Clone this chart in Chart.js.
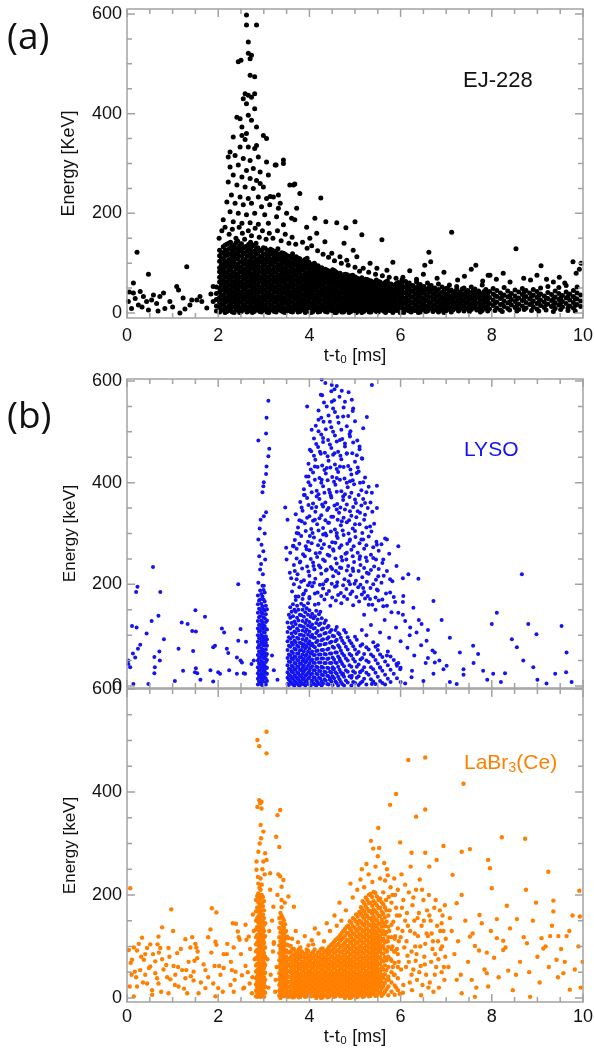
<!DOCTYPE html>
<html>
<head>
<meta charset="utf-8">
<script src="https://cdn.jsdelivr.net/npm/chart.js@4"></script>
<style>
  body { margin: 0; background: #fff; }
  #page { position: relative; width: 594px; height: 1050px; overflow: hidden; }
  .box { position: absolute; left: 0; }
  .box canvas { display: block; }
  .tag { position: absolute; white-space: nowrap; }
  .panel-id { font: 37px/40px 'Open Sans', sans-serif; color: #111; left: 7px; }
  .name { font-family: 'Liberation Sans', Arial, sans-serif; line-height: 26px; }
  .name sub { font-size: 0.68em; line-height: 0; vertical-align: -0.22em; }
</style>
</head>
<body>
<div id="page">
  <div class="box" style="top:-30px"><canvas id="chartA" width="594" height="402"></canvas></div>
  <div class="box" style="top:340px"><canvas id="chartB" width="594" height="350"></canvas></div>
  <div class="box" style="top:650px"><canvas id="chartC" width="594" height="400"></canvas></div>
  <div class="tag panel-id" style="top:15px">(a)</div>
  <div class="tag panel-id" style="top:394px">(b)</div>
  <div class="tag name" style="left:463px;top:67px;font-size:22px;color:#111">EJ-228</div>
  <div class="tag name" style="left:464px;top:436px;font-size:21px;color:rgb(20,20,240)">LYSO</div>
  <div class="tag name" style="left:464px;top:749px;font-size:21px;color:rgb(255,128,0)">LaBr<sub>3</sub>(Ce)</div>
</div>
<script>
// ticks
const xTicks = [0,0.5,1,1.5,2,2.5,3,3.5,4,4.5,5,5.5,6,6.5,7,7.5,8,8.5,9,9.5,10];
const yTicks = [0,50,100,150,200,250,300,350,400,450,500,550,600];

// (a) EJ-228 : [t-t0 ms, keV] pairs, and dense columns [t, E, E, ...]
const ejPre = [[0.03,23],[0.05,42],[0.10,9],[0.14,40],[0.14,60],[0.18,29],[0.22,122],[0.25,16],[0.29,43],[0.33,12],[0.36,33],[0.43,23],[0.47,6],[0.47,78],[0.54,26],[0.58,36],[0.65,19],[0.68,4],[0.72,33],[0.80,40],[0.83,9],[0.94,23],[1.00,12],[1.09,53],[1.13,46],[1.16,0],[1.23,30],[1.27,8],[1.31,93],[1.38,16],[1.42,26],[1.53,26],[1.60,33],[1.64,23],[1.75,10],[1.84,38],[1.89,53],[1.89,23]];

const ejUpper = [[2.62,598],[2.62,578],[2.84,578],[2.66,544],[2.66,521],[2.73,517],[2.7,510],[2.44,504],[2.5,507],[2.7,477],[2.8,474],[2.59,440],[2.66,437],[2.55,430],[2.73,433],[2.8,440],[2.62,420],[2.8,410],[2.41,393],[2.48,390],[2.66,397],[2.73,387],[2.52,373],[2.84,373],[2.33,353],[2.52,356],[2.62,360],[2.59,348],[2.99,356],[3.06,350],[2.26,323],[2.48,333],[2.66,333],[2.8,330],[2.84,336],[2.22,313],[2.37,316],[2.55,310],[2.7,306],[2.88,313],[3.06,303],[3.43,300],[3.25,297],[2.26,293],[2.44,297],[2.62,286],[2.77,290],[2.92,283],[2.33,277],[2.52,273],[2.7,270],[2.84,266],[2.22,263],[2.41,257],[2.59,253],[2.77,250],[2.99,253],[3.65,257],[2.29,237],[2.48,233],[2.66,230],[2.88,233],[3.06,230],[3.21,233],[3.79,240],[2.19,223],[2.37,220],[2.55,217],[2.73,220],[2.95,213],[3.13,217],[3.32,210],[2.26,203],[2.44,200],[2.62,197],[2.8,200],[3.02,197],[3.28,193],[3.5,200],[2.11,187],[2.33,183],[2.52,180],[2.7,181],[2.88,178],[3.1,180],[3.43,177],[3.68,187],
  [3.57,257],[3.68,259],[4.25,231],[4.12,190],[4.36,183],[4.6,181],[5.0,183],[4.8,171],[5.15,157],[5.59,147],[4.76,140],[4.96,126],[5.83,102],[3.32,237],[3.14,234],[3.43,307],[3.27,297],[3.1,277],[2.92,260],[3.36,220],[3.72,210],[3.61,190],[3.94,172],[4.16,160],[4.01,150],[4.34,143],[4.49,120],[4.67,113],[4.82,106],[5.33,100],[5.18,90],[5.48,90],[5.7,86],[5.04,113],
  [2.02,150],[2.08,165],[2.15,172],[2.24,158],[2.31,168],[2.39,150],[2.46,172],[2.53,160],[2.58,148],[2.66,165],[2.73,155],[2.81,170],[2.9,152],[2.97,165],[3.05,148],[3.12,160],[3.2,150],[3.3,165],[3.38,145],[3.47,158],[3.55,140],[3.62,152],[3.7,138],[3.85,142],[3.95,130],[4.05,135],[4.18,125],[4.3,118],[4.42,112],[4.55,105],[4.7,100],[4.85,96],[5.0,92],[5.1,84],[5.3,82],[5.45,78],[5.6,75],[5.75,72],[5.9,70],
  [6.05,72],[6.2,85],[6.35,68],[6.5,78],[6.53,96],[6.62,122],[6.66,103],[6.8,70],[6.95,82],[7.12,162],[7.25,66],[7.4,74],[7.55,88],[7.65,96],[7.8,64],[7.92,76],[7.96,76],[8.1,68],[8.25,80],[8.4,62],[8.53,129],[8.7,70],[8.85,66],[8.99,76],[9.08,95],[9.2,68],[9.35,62],[9.48,72],[9.6,60],[9.78,103],[9.85,80],[9.96,100],[9.92,88]];

const ejCore = [
  [1.96,4,14,27,39,52],
  [2.03,2,12,21,31,42,50,62,72,83,91,104,115,126],
  [2.11,6,16,26,35,46,57,66,78,87,99,109,121,133],
  [2.19,3,11,23,31,43,52,62,73,83,94,102,116,125,138],
  [2.27,7,18,27,37,46,57,68,77,88,99,108,118,131,142],
  [2.35,1,12,22,32,41,53,62,73,82,94,105,113,127,136],
  [2.43,6,15,26,36,47,57,68,77,89,97,109,121,130,144],
  [2.51,3,11,22,33,42,52,61,73,83,92,103,114,125,139],
  [2.59,8,17,28,37,48,57,69,78,88,99,108,120,133],
  [2.67,4,13,23,34,43,54,63,75,84,94,104,115,127,138],
  [2.75,1,10,21,30,40,49,60,71,79,91,101,112,122,135],
  [2.83,6,16,25,36,45,56,67,76,87,96,106,118,128,140],
  [2.91,3,13,22,31,42,51,62,71,82,92,103,112,125],
  [2.99,7,17,28,37,47,58,67,78,87,99,108,119,131],
  [3.07,2,11,21,32,41,52,61,72,83,92,104,113,126],
  [3.15,6,16,26,35,47,56,66,77,86,98,107,119,128],
  [3.23,3,12,23,31,42,51,62,71,83,92,103,115,123],
  [3.31,8,17,27,38,47,57,68,77,88,97,109,118,129],
  [3.39,4,14,23,32,43,52,63,72,83,94,104,114,121],
  [3.47,1,9,20,29,39,48,58,68,79,89,100,109,118],
  [3.55,5,15,25,35,44,54,65,74,84,95,104,114],
  [3.63,2,11,21,31,40,51,60,70,81,90,101,110,119],
  [3.71,7,16,27,36,45,56,66,76,85,96,106,113],
  [3.79,3,12,22,32,41,51,62,71,82,91,101,109],
  [3.87,8,18,27,37,48,57,67,76,87,97,105],
  [3.95,4,13,23,33,42,53,62,72,81,92,100,110],
  [4.03,1,10,19,30,38,48,59,68,78,87,97],
  [4.11,6,15,25,34,45,54,63,73,84,93,100],
  [4.19,2,11,21,30,40,51,59,70,79,88,95],
  [4.27,7,16,26,36,45,55,64,75,84,91],
  [4.35,3,12,22,31,41,50,61,70,80,88],
  [4.43,8,17,27,36,46,56,65,74,84],
  [4.51,4,13,23,33,42,51,61,71,80,87],
  [4.59,1,10,19,28,38,48,57,66,75,82],
  [4.67,6,15,25,34,43,53,62,72,80],
  [4.75,2,11,20,30,39,49,58,68,77],
  [4.83,7,16,26,35,44,54,63,72,77],
  [4.91,3,12,21,31,40,50,59,68,75],
  [4.99,8,17,27,36,46,55,64,73],
  [5.07,4,13,22,32,41,51,60,69],
  [5.15,1,10,19,28,37,46,56,65,71],
  [5.23,6,15,24,34,43,52,61,68],
  [5.31,2,11,20,29,39,48,57,65],
  [5.39,7,16,25,35,44,53,62],
  [5.47,3,12,21,31,40,49,58,66],
  [5.55,8,17,26,36,45,54,62],
  [5.63,4,13,22,32,41,50,59],
  [5.71,9,18,27,37,46,55,64],
  [5.79,5,14,23,33,42,51,58],
  [5.87,10,19,28,38,47,56],
  [5.95,6,15,24,34,43,52,61]];

const ejFill = [
  [2.07,7,17,26,36,47,56,67,77,88,97,109,120],
  [2.15,1,11,21,30,41,51,61,72,82,93,104,114,126,136],
  [2.23,5,14,26,35,45,55,66,76,86,97,107,118,128,140],
  [2.31,2,12,22,31,42,51,62,72,82,93,103,114,123,134],
  [2.39,8,17,27,37,47,57,67,78,88,98,109,118,130,141],
  [2.47,1,10,21,31,41,52,62,72,83,93,103,115,126,135],
  [2.55,7,16,27,37,47,57,67,78,87,98,108,119,130],
  [2.63,2,11,22,32,42,52,63,73,83,93,103,114,124,134],
  [2.71,6,15,26,36,45,55,66,77,88,97,107,118,130,142],
  [2.79,3,12,22,31,41,51,62,72,82,92,102,112,124,136],
  [2.87,8,18,27,37,47,57,67,78,88,98,108,119,131],
  [2.95,2,11,21,32,42,52,62,72,83,93,103,114,126],
  [3.03,6,15,26,36,46,56,66,77,87,97,108,118,130],
  [3.11,1,10,21,31,41,51,62,72,82,92,102,114,122],
  [3.19,7,17,27,37,47,57,67,77,87,97,108,118,126],
  [3.27,2,12,22,32,42,52,62,72,82,93,104,113,124],
  [3.35,6,16,26,35,46,56,66,76,87,97,107,117],
  [3.43,2,11,21,30,40,51,61,71,81,91,101,111,120],
  [3.51,7,17,26,36,46,56,66,76,86,96,105,115],
  [3.59,3,12,22,32,42,52,62,72,82,92,101,112],
  [3.67,8,18,28,38,47,57,67,77,87,97,105],
  [3.75,2,11,21,31,41,51,61,71,81,91,100,110],
  [3.83,6,16,26,36,46,56,66,76,86,95,104],
  [3.91,1,10,20,30,40,50,60,70,80,90,99,108],
  [3.99,5,15,25,35,45,55,65,75,85,94,102],
  [4.07,2,11,21,31,41,51,61,71,81,90,98],
  [4.15,7,16,26,36,46,56,66,76,85,95],
  [4.23,3,12,22,32,42,52,62,72,81,90],
  [4.31,8,17,27,37,47,57,66,76,85],
  [4.39,2,11,21,31,41,51,61,70,79,86],
  [4.47,6,15,25,35,45,55,64,73,82],
  [4.55,1,10,20,30,40,50,59,68,77,85],
  [4.63,5,14,24,33,42,52,61,70,78],
  [4.71,2,11,21,30,40,49,58,67,76],
  [4.79,6,15,24,33,42,51,61,70,78],
  [4.87,1,10,19,28,38,47,56,65,74],
  [4.95,5,14,23,32,42,51,60,69,76],
  [5.03,1,10,18,27,37,46,55,64,71],
  [5.11,6,15,24,33,42,51,60,68],
  [5.19,3,12,21,30,39,49,58,66],
  [5.27,7,16,25,34,43,52,61,67],
  [5.35,2,11,20,30,39,48,57,64],
  [5.43,6,15,24,33,42,51,60],
  [5.51,2,11,20,29,38,47,56,63],
  [5.59,6,15,24,33,42,51,58],
  [5.67,1,10,19,28,37,46,55,62],
  [5.75,5,14,23,32,41,50,58],
  [5.83,1,10,19,28,37,46,54],
  [5.91,5,14,23,33,42,51,59],
  [5.99,1,10,19,29,38,47,55]];

const ejTail = [
  [6.03,3,13,24,35,47,58,66],[6.11,8,19,29,41,52,63],[6.19,4,15,26,37,49,60],[6.27,10,21,32,44,55],
  [6.35,6,17,28,39,51,62],[6.43,2,12,23,35,46,57],[6.51,8,19,30,42,53],[6.59,4,14,26,37,48,60],
  [6.67,10,21,32,44,55],[6.75,6,16,28,39,50],[6.83,2,12,24,35,47,58],[6.91,8,19,30,41,52],
  [6.99,4,15,26,37,49],[7.07,10,21,32,44,56],[7.15,6,17,28,40],[7.23,12,23,35,47,53],
  [7.31,8,19,30,42],[7.39,4,15,26,38,50],[7.47,11,22,34,45],[7.55,7,18,29,41,52],
  [7.63,14,25,37,48],[7.71,9,20,32,44],[7.79,5,16,27,39,56],[7.87,12,24,35,47],
  [7.95,8,19,31,43],[8.03,15,26,38,49],[8.11,10,22,33,45],[8.19,6,17,29,40],
  [8.27,13,24,36,51],[8.35,9,20,32,44],[8.43,16,27,39],[8.51,11,23,34,46],
  [8.59,7,18,30,42],[8.67,14,25,37,49],[8.75,10,21,33,45],[8.83,17,28,40],
  [8.91,12,24,36,47],[8.99,8,19,31,43],[9.07,15,26,38,50],[9.15,11,22,34],
  [9.23,18,29,41,53],[9.31,13,25,37],[9.39,9,20,32,44],[9.47,16,27,39,51],
  [9.55,12,23,35],[9.63,19,30,42,55],[9.71,14,26,38],[9.79,10,21,33,45],
  [9.87,17,28,40,52],[9.95,13,24,36],
  [6.07,1,9,20,30,41,52],[6.15,6,14,24,35,46,57],[6.23,2,10,21,32,43,54],[6.31,5,15,26,37,48],
  [6.39,1,10,21,32,43,54],[6.47,7,16,28,40,50],[6.55,3,13,24,35,46],[6.63,8,19,31,42,52],
  [6.71,3,15,26,37,48],[6.79,10,21,33,44],[6.87,5,16,27,38],[6.95,1,10,22,33,44],
  [7.03,7,18,28,39,50],[7.11,2,12,24,34,46],[7.19,9,20,32,43],[7.27,4,15,27,38],
  [7.35,13,24,35,48],[7.43,8,20,31,42],[7.51,3,15,27,37],[7.59,10,21,33,45],
  [7.67,6,19,30,41],[7.75,2,13,25,36],[7.83,9,21,31,43],[7.91,4,16,27,39],
  [8.07,5,20,35],[8.23,3,18,33],[8.39,6,22,34],[8.55,4,15,28],[8.71,7,30,42],[8.87,5,19,33],
  [9.03,4,22,35],[9.19,6,17,30],[9.35,3,16,28],[9.51,7,20,30],[9.67,5,10,33],[9.83,4,15,29]];

// (b) LYSO
const lysoLeft = [[0.03,43],[0.03,50],[0.07,37],[0.11,118],[0.13,64],[0.14,4],[0.18,56],[0.2,185],[0.21,115],[0.23,195],[0.24,73],[0.29,81],[0.43,103],[0.47,4],[0.54,128],[0.57,234],[0.6,57],[0.61,37],[0.6,25],[0.69,138],[0.71,68],[0.72,50],[0.73,185],[0.81,92],[1.05,10],[1.13,73],[1.2,125],[1.23,30],[1.33,122],[1.43,108],[1.45,69],[1.49,27],[1.5,149],[1.51,107],[1.51,35],[1.54,25],[1.61,12],[1.71,136],[1.83,31],[1.89,9],[1.89,76],[1.93,79],[2.0,27],[2.04,24],[2.08,113],[2.13,105],[2.19,73],[2.22,65],[2.24,31],[2.41,56],[2.41,24],[2.44,89],[2.44,200],[2.49,112],[2.49,50],[2.52,46],[2.56,25],[2.59,24],[2.61,87],[2.73,43],[2.78,50],[3.22,31],[3.3,12],[3.18,60]];

const lysoSpike = [[3.1,561],[3.06,528],[3.05,497],[2.88,483],[3.12,467],[3.1,452],[3.06,432],[3.05,417],[3.0,401],[2.99,393],[2.97,381],[3.05,342],[3.0,334],[2.93,327],[2.88,288],[2.95,278],[2.99,265],[2.9,255],[3.03,249],[2.92,229],[2.98,220],[2.88,203],[3.0,197],[2.94,240],[3.02,300],[2.91,310],
  [3.47,351],[3.52,327],[3.49,272],[3.65,275],[3.5,249],[3.57,223]];

const lysoCloud = [[4.27,603],[4.49,592],[4.55,584],[4.71,581],[5.37,592],[4.25,573],[4.49,559],[4.93,563],[3.95,550],[4.52,546],[4.96,546],[5.26,529],[4.2,524],[4.45,520],[4.74,530],[4.05,504],[4.3,488],[4.89,491],[5.18,507],[4.67,484],[5.1,471],[4.01,465],[4.23,461],[4.52,455],[4.82,458],[5.15,448],[4.12,432],[4.38,429],[4.67,432],[5.04,419],[3.98,412],[4.27,406],[4.6,409],[4.89,403],[5.11,400],[5.48,394],[5.37,380],[3.88,376],[4.16,373],[4.45,380],[4.74,373],[5.0,367],[5.22,360],[5.48,350],[4.05,350],[4.3,353],[4.6,347],[4.89,344],[5.11,341],[3.83,324],[4.12,327],[4.41,321],[4.71,324],[5.0,318],[5.33,314],[5.7,288],[5.95,275],[3.72,301],[4.01,295],[4.3,298],[4.6,295],[4.89,288],[5.18,288],[5.48,278],[3.65,275],[3.94,269],[4.23,262],[4.52,269],[4.82,262],[5.11,255],[5.4,252],[5.62,249],[5.91,236],[6.17,220],[6.39,211],[3.79,243],[4.09,236],[4.38,229],[4.67,233],[4.96,226],[5.26,223],[5.51,216],[5.77,210],[3.72,210],[4.01,203],[4.3,200],[4.6,197],[4.89,200],[5.18,193],[5.48,190],[5.77,184],[6.06,177],[6.72,167],[5.62,157],[5.33,171],[5.95,144],[6.28,154],
  [4.2,162],[4.33,170],[4.46,158],[4.58,168],[4.7,163],[4.83,171],[4.96,159],[5.09,166],[5.22,172],[5.38,160],[5.52,168],[5.7,158],[5.88,165],
  [3.62,186],[3.78,194],[3.92,188],[4.06,196],[4.18,184],[4.3,192],[4.43,187],[4.56,195],[4.69,183],[4.81,191],[4.94,186],[5.07,194],[5.2,185],[5.34,193],[5.5,188],[5.68,182],
  [3.6,212],[3.74,220],[3.88,208],[4.0,217],[4.13,211],[4.26,221],[4.39,209],[4.52,216],[4.64,222],[4.77,210],[4.9,218],[5.02,207],[5.16,214],[5.3,221],[5.46,209],[5.63,217],[5.82,206],[6.05,212],
  [3.66,238],[3.8,245],[3.95,235],[4.08,243],[4.21,237],[4.34,246],[4.47,234],[4.6,241],[4.72,247],[4.85,236],[4.98,244],[5.12,238],[5.26,246],[5.42,235],[5.6,242],
  [3.58,262],[3.72,270],[3.86,259],[4.0,267],[4.14,261],[4.27,271],[4.4,258],[4.53,266],[4.66,272],[4.79,260],[4.92,268],[5.06,262],[5.2,270],[5.35,258],[5.52,266],[5.75,260],
  [3.68,287],[3.82,295],[3.97,284],[4.1,292],[4.24,286],[4.37,296],[4.5,283],[4.62,291],[4.75,297],[4.88,285],[5.01,293],[5.14,288],[5.3,294],[5.47,284],[5.66,290],
  [3.75,312],[3.9,320],[4.04,309],[4.17,318],[4.3,311],[4.43,321],[4.56,308],[4.69,316],[4.82,322],[4.95,310],[5.1,318],[5.25,312],[5.42,319],
  [3.7,338],[3.85,345],[4.0,334],[4.13,343],[4.26,336],[4.39,346],[4.52,333],[4.65,341],[4.78,347],[4.92,335],[5.06,344],[5.22,337],[5.38,343],
  [3.8,362],[3.95,370],[4.08,359],[4.22,368],[4.35,361],[4.48,371],[4.61,358],[4.74,366],[4.88,372],[5.02,360],[5.18,368],[5.34,361],
  [3.88,387],[4.02,395],[4.16,384],[4.3,393],[4.43,386],[4.57,396],[4.7,383],[4.84,391],[4.98,397],[5.14,385],[5.3,392],
  [3.93,412],[4.08,420],[4.22,409],[4.36,418],[4.5,411],[4.63,421],[4.77,408],[4.92,416],[5.08,422],[5.22,410],
  [3.98,437],[4.13,445],[4.28,434],[4.42,443],[4.56,436],[4.7,446],[4.85,433],[5.0,441],[5.16,447],
  [4.04,462],[4.19,470],[4.34,459],[4.48,468],[4.63,461],[4.78,471],[4.94,458],[5.1,466],
  [4.1,487],[4.26,495],[4.41,484],[4.56,493],[4.72,486],[4.88,496],[5.05,483],
  [4.14,512],[4.31,520],[4.48,509],[4.64,518],[4.82,511],[5.0,521],
  [4.2,542],[4.38,550],[4.56,539],[4.75,548],[4.95,541],
  [4.28,572],[4.48,580],[4.66,569],[4.86,578],[4.35,596],[4.6,590],
  [3.7,176],[3.86,180],[4.0,175],[4.12,182],[4.26,177],[4.38,181],[4.5,174],[4.63,179],[4.76,176],[4.9,181],[5.03,175],[5.15,180],[5.28,177],[5.45,174],
  [3.66,200],[3.82,205],[3.97,198],[4.1,203],[4.23,199],[4.36,206],[4.49,201],[4.61,204],[4.74,198],[4.86,206],[4.99,201],[5.12,199],[5.26,205],[5.4,200],[5.58,203],
  [3.68,226],[3.84,231],[3.98,225],[4.11,229],[4.24,233],[4.36,227],[4.5,230],[4.58,226],[4.7,232],[4.82,227],[4.95,231],[5.08,226],[5.2,232],[5.35,228],[5.52,230],[5.7,226],
  [3.72,251],[3.9,255],[4.03,250],[4.17,254],[4.3,249],[4.44,256],[4.57,251],[4.7,254],[4.81,249],[4.95,255],[5.1,250],[5.24,253],[5.46,249],
  [3.64,276],[3.78,280],[3.92,275],[4.05,281],[4.19,277],[4.32,279],[4.44,274],[4.57,282],[4.7,277],[4.83,280],[4.97,275],[5.1,281],[5.25,277],[5.4,273],[5.58,279],
  [3.76,300],[3.92,305],[4.07,301],[4.2,306],[4.35,300],[4.47,304],[4.6,301],[4.73,306],[4.86,300],[5.0,305],[5.16,301],[5.36,304],
  [3.78,326],[3.95,331],[4.08,325],[4.22,330],[4.35,326],[4.48,333],[4.62,327],[4.75,331],[4.87,326],[5.03,332],[5.2,327],
  [3.83,351],[3.98,356],[4.15,352],[4.28,357],[4.42,350],[4.55,355],[4.68,351],[4.82,357],[4.96,352],[5.14,355],[5.28,350],
  [3.9,376],[4.05,381],[4.2,377],[4.33,380],[4.47,375],[4.6,382],[4.78,377],[4.92,380],[5.08,376],[5.25,381],
  [3.98,401],[4.12,406],[4.26,400],[4.4,405],[4.54,402],[4.67,406],[4.82,400],[4.95,405],[5.18,401],
  [4.03,426],[4.18,431],[4.33,425],[4.46,430],[4.6,427],[4.75,431],[4.9,426],[5.06,430],
  [4.1,453],[4.25,457],[4.4,452],[4.55,458],[4.68,453],[4.82,457],[5.04,454],
  [4.15,476],[4.3,480],[4.45,475],[4.6,481],[4.78,477],[4.96,479],
  [4.2,501],[4.36,505],[4.52,500],[4.7,504],[4.9,501],
  [4.26,528],[4.42,532],[4.62,529],[4.85,531],[4.32,558],[4.54,562],[4.78,559]];

const lysoRight = [[6.1,128],[6.21,115],[6.35,105],[6.46,122],[6.57,89],[6.75,66],[7.08,95],[7.3,66],[7.59,79],[7.7,63],[8.0,122],[8.11,144],[8.44,92],[8.55,76],[8.66,220],[8.69,50],[8.8,122],[8.91,37],[8.98,102],[9.53,118],[9.64,66],[7.81,30],[8.03,24],[8.29,25],[9.39,24],[9.63,27],[7.38,33],[7.38,22],[7.23,4],[7.08,8],[6.94,33],[6.72,24],[7.01,40],[6.5,10],[6.24,17],[5.91,43],[5.99,33],[5.55,37],[5.37,4],[5.11,27],[4.93,20],[4.67,50],[4.74,24],[4.45,14],[4.52,33],[4.27,37],[6.75,46],[7.6,45],[8.2,8],[9.0,12],[9.2,5],[9.75,8],[6.1,5],[6.6,55],[7.9,12],
  [5.2,140],[5.35,120],[5.45,150],[5.55,105],[5.65,130],[5.75,95],[5.8,145],[5.9,115],[6.0,88],[6.05,140],[6.15,75],[6.2,100],[6.3,60],[6.4,130],[6.45,80],[6.55,45],[6.6,110],[6.7,70],[6.85,50],[6.9,130],[5.25,100],[5.5,80],[5.7,60],[5.95,45],[6.25,30],[5.15,110],[5.3,160],[5.6,170],[5.85,175],[6.05,165]];

const lysoCore = [
  [2.87,3,14,25,37,50,61,75,87,100,113,128,144,161,178],
  [2.92,8,19,31,42,56,67,81,94,108,121,137,151,170,188],
  [2.97,2,12,23,36,47,61,72,86,98,113,126,142,157,176,197],
  [3.02,6,17,29,40,54,65,79,91,105,118,133,148,166,184],
  [3.07,10,24,36,51,63,79,92,111,129,151],
  [3.52,4,16,27,41,55,71,88,106,125],
  [3.58,9,20,33,47,60,77,93,113,134,155],
  [3.64,3,14,27,38,52,65,81,97,117,137,161],
  [3.70,8,19,32,44,57,72,86,104,122,146,169],
  [3.76,2,13,25,38,50,64,77,93,109,129,150,176],
  [3.82,7,18,31,43,56,71,84,101,118,139,162],
  [3.88,4,15,28,40,53,68,82,99,116,136,158,182],
  [3.94,10,22,35,49,62,78,93,111,130,153],
  [4.00,5,17,30,44,57,73,88,107,126,149,172],
  [4.06,11,24,39,52,68,83,101,121,142],
  [4.12,3,16,31,45,61,76,95,114,137,160],
  [4.18,8,23,37,54,70,89,108,131],
  [4.24,14,29,46,62,81,100,123,146],
  [4.30,5,21,36,54,71,92,113],
  [4.36,11,27,45,62,83,104,129],
  [4.42,3,19,35,54,73,96,118],
  [4.48,9,26,45,64,87,110],
  [4.54,15,34,52,75,98],
  [4.60,6,24,45,66,91,116],
  [4.66,13,32,54,76,102],
  [4.72,4,22,43,64,89],
  [4.80,11,31,54,77,105],
  [4.88,19,41,63,89],
  [4.96,8,29,53,78],
  [5.04,16,38,63,91],
  [5.12,6,28,52,79],
  [5.20,14,37,63],
  [5.30,22,47,72],
  [5.40,9,33,58,86],
  [5.50,18,44,71],
  [5.60,6,30,57],
  [5.72,14,41,68],
  [5.85,24,51],
  [6.00,8,36],
  [2.895,9,20,31,44,55,68,80,94,107,120,135,152,168],
  [2.945,3,14,25,37,49,62,74,88,101,115,129,145,162,181],
  [2.995,8,18,30,42,55,67,80,93,106,120,135,151,170,189],
  [3.045,3,14,24,35,47,59,72,85,98,112,126,141,158],
  [3.55,2,12,22,34,48,62,79,96,115,140],
  [3.61,6,16,28,40,54,68,85,103,124,146],
  [3.67,1,10,21,33,45,58,73,89,107,127,150],
  [3.73,5,15,26,38,51,64,79,95,113,134,158],
  [3.79,1,9,20,32,44,57,70,85,101,119,140],
  [3.85,4,13,24,36,49,62,77,92,109,128,150,171],
  [3.91,1,9,20,33,46,59,74,89,106,124,145],
  [3.97,4,14,26,40,54,68,84,101,119,140,163],
  [4.03,1,10,23,36,50,64,80,97,116,136],
  [4.09,5,17,31,46,61,78,95,113,133],
  [4.15,1,11,24,38,53,69,86,104,124,148],
  [4.21,4,16,30,46,62,80,99,120,141],
  [4.27,1,9,22,38,54,71,90,111,133],
  [4.33,13,28,45,63,82,103,124],
  [4.39,4,20,36,53,72,93,115],
  [4.45,12,28,45,64,85,106],
  [4.51,2,19,37,56,77,99],
  [4.57,9,27,46,66,88,110],
  [4.63,1,18,38,58,80,104],
  [4.69,8,27,48,70,95],
  [4.76,1,18,39,60,84,110],
  [4.84,7,28,50,72,96],
  [4.92,1,16,38,60,84],
  [5.00,6,26,48,72,97],
  [5.08,2,19,42,67],
  [5.16,9,31,55,82],
  [5.25,3,26,50,76],
  [5.35,13,37,62],
  [5.45,4,26,51,77],
  [5.55,10,36,62],
  [5.66,3,22,48],
  [5.78,8,32,58],
  [5.92,15,40]];

// (b) LaBr3(Ce)
const laLeft = [[0.07,213],[0.97,172],[1.86,174],[1.96,166],[0.77,137],[1.01,130],[2.32,145],[2.39,144],[2.6,142],[0.33,117],[0.69,119],[1.28,114],[1.43,118],[1.83,133],[1.78,118],[2.43,129],[2.45,118],[2.67,119],[0.15,98],[0.22,92],[0.04,93],[0.51,104],[0.44,97],[0.67,104],[0.73,97],[0.91,97],[1.1,87],[1.39,98],[1.5,105],[1.52,98],[1.94,109],[1.96,103],[2.34,98],[2.47,113],[2.62,113],[3.22,108],[0.11,74],[0.31,80],[0.37,74],[0.57,85],[0.62,71],[0.77,75],[0.86,64],[1.02,62],[1.21,54],[1.3,54],[1.46,51],[1.54,77],[1.48,72],[1.72,54],[1.92,62],[2.12,85],[2.19,85],[2.02,62],[2.12,58],[2.3,54],[2.38,51],[2.6,62],[2.52,44],[0.1,45],[0.17,51],[0.29,54],[0.4,45],[0.51,61],[0.66,38],[0.22,22],[0.06,22],[0.44,28],[0.69,28],[0.95,36],[1.06,45],[1.28,38],[1.46,34],[1.13,22],[0.91,9],[0.55,6],[0.15,3],[1.32,9],[1.57,9],[1.72,19],[1.89,28],[1.94,3],[2.0,19],[2.27,25],[2.34,12],[2.57,20],[2.69,28],[2.74,9],[2.76,162],
  [0.08,68],[0.2,40],[0.26,105],[0.35,30],[0.4,85],[0.48,58],[0.55,15],[0.62,48],[0.7,88],[0.75,12],[0.8,55],[0.88,40],[0.93,80],[1.05,25],[1.12,60],[1.18,95],[1.25,18],[1.35,70],[1.4,42],[1.55,90],[1.62,30],[1.68,65],[1.78,40],[1.85,88],[2.05,45],[2.1,12],[2.2,105],[2.28,70],[2.36,35],[2.5,85],[2.55,18],[2.65,50],[2.7,95],[2.75,40],[2.78,130],[2.8,75]];

const laSpike = [[2.86,501],[2.9,489],[3.06,517],[3.06,475],[2.9,384],[2.95,381],[2.86,371],[2.92,378],[2.95,368],[2.93,336],[2.99,323],[2.94,310],[3.03,281],[2.88,284],[2.99,265],[2.84,265],[2.84,249],[3.06,268],[3.14,242],[2.91,300],[2.97,250],[2.87,235],[3.02,240],
  [3.36,365],[3.3,355],[3.34,293],[3.27,313],[3.36,236],[3.43,229],[3.39,216],[3.66,177],[3.14,210],[3.21,177],[3.32,240],[3.54,197],[3.39,190],[3.46,185],[3.3,200],
  [3.1,20],[3.15,45],[3.2,90],[3.25,12],[3.12,130],[3.28,60],[3.18,150],[3.08,75],[3.22,105],[3.26,35],
  [3.62,115],[3.75,108],[3.9,120],[4.05,112],[4.2,125],[4.32,110],[4.45,130],[4.6,140],[4.7,150],[3.7,130],[3.98,102],[4.12,135],[4.38,145],[4.55,160],[4.8,170],[4.66,185],[4.95,195],[5.05,210],[5.12,230],[5.2,215],[5.3,240],[5.38,225],[5.45,255],[5.55,232],[5.25,260],[5.5,275],[5.4,290],[5.15,250],[4.9,222],[5.35,305]];

const laMid = [[5.62,205],[5.66,228],[5.7,250],[5.74,196],[5.78,215],[5.64,262],[5.72,238],[5.8,185],[5.76,170],[5.68,190],
  [5.82,200],[5.86,232],[5.9,175],[5.94,210],[5.98,160],[5.84,148],[5.88,120],[5.92,95],[5.96,70],[5.85,45],[5.9,20],[5.98,8],[5.82,100],[5.94,135],
  [6.02,240],[6.06,190],[6.1,220],[6.14,165],[6.18,205],[6.04,130],[6.08,98],[6.12,60],[6.16,140],[6.2,30],[6.05,10],[6.15,82],[6.0,118],
  [6.22,255],[6.26,180],[6.3,150],[6.34,210],[6.38,120],[6.24,90],[6.28,55],[6.32,100],[6.36,35],[6.4,165],[6.25,15],[6.33,72],
  [6.42,230],[6.46,140],[6.5,190],[6.54,105],[6.58,170],[6.44,62],[6.48,25],[6.52,80],[6.56,45],[6.6,120],[6.45,5],
  [6.62,200],[6.66,150],[6.7,95],[6.74,175],[6.78,60],[6.64,30],[6.68,125],[6.72,12],[6.76,85],[6.8,140],
  [6.82,110],[6.86,170],[6.9,50],[6.94,130],[6.98,80],[6.84,20],[6.88,95],[6.92,160],[6.96,35],[6.99,115],
  [5.66,140],[5.72,110],[5.78,75],[5.74,35],[5.86,90],[5.92,160],[5.96,110],[6.01,55],[6.06,25],[6.1,150],[6.13,110],[6.18,70],[6.21,130],[6.24,45],[6.28,195],[6.31,125],[6.35,85],[6.37,155],[6.41,50],[6.43,100],[6.47,210],[6.51,150],[6.53,65],[6.57,125],[6.61,20],[6.63,160],[6.67,70],[6.71,110],[6.75,45],[6.77,190],[6.83,75],[6.87,130],[6.91,100],[6.95,60],[6.97,180],[5.7,90],[5.75,130],[5.83,60],[5.88,200],[6.03,175]];

const laRight = [[6.17,462],[6.54,467],[7.38,416],[5.9,396],[5.77,375],[6.54,366],[6.34,352],[5.51,330],[8.73,309],[8.22,312],[5.99,302],[5.53,291],[6.94,295],[7.52,289],[7.34,284],[6.54,282],[6.24,282],[7.92,268],[7.96,252],[9.24,245],[6.79,268],[6.63,255],[7.14,239],[8.0,213],[8.75,210],[9.92,208],[8.33,179],[8.97,185],[9.35,189],[9.77,160],[9.35,168],[8.11,153],[8.55,153],[7.73,161],[7.78,145],[7.34,200],[7.23,184],[7.08,155],[6.9,145],[7.52,119],[7.63,101],[8.11,116],[8.25,111],[8.77,106],[9.09,116],[9.28,120],[9.46,120],[9.64,120],[9.13,96],[8.25,93],[8.53,45],[9.57,48],[9.71,16],[8.84,2],[7.89,48],[7.92,22],[8.36,53],[7.23,35],[7.34,9],[7.56,35],[7.63,2],[9.99,70],[9.42,74],[7.89,88],[9.93,158],
  [7.05,60],[7.12,130],[7.18,85],[7.26,110],[7.32,45],[7.42,150],[7.48,70],[7.58,125],[7.66,20],[7.72,92],[7.84,55],[7.98,130],[8.05,78],[8.15,40],[8.3,98],[8.4,135],[8.46,15],[8.62,70],[8.7,118],[8.82,50],[8.9,150],[9.0,80],[9.05,30],[9.18,100],[9.25,60],[9.32,140],[9.45,40],[9.52,95],[9.6,70],[9.7,130],[9.82,55],[9.9,100],[9.95,20]];

const laCore = [
  [2.83,3,14,26,38,51,63,77,90,104,118,133,150,168,190],
  [2.88,8,17,27,36,46,55,65,74,84,93,103,113,123,134,146,158,171,186,203,222],
  [2.93,2,11,21,30,40,49,59,68,78,87,97,107,117,128,139,151,163,177,192,210,232],
  [2.98,6,15,25,34,44,53,63,72,82,92,102,112,123,135,148,162,178,196],
  [3.03,10,22,35,49,64,80,98,120,145],
  [3.34,4,14,25,36,48,60,73,87,102,118,136,155],
  [3.39,9,18,28,38,48,59,70,81,93,105,118,131,145,160,176],
  [3.44,3,12,22,32,42,52,63,74,85,97,109,122,136,151],
  [3.49,7,17,27,37,47,58,69,80,92,104,117,130],
  [3.54,2,11,21,31,41,52,63,75,88,102,116],
  [3.59,5,14,23,32,41,50,60,69,79,90,101],
  [3.66,1,10,19,28,37,46,55,65,74,84,95],
  [3.73,6,15,24,33,42,51,61,70,80,88],
  [3.80,2,11,20,29,38,47,57,66,76,86,98],
  [3.87,7,16,25,34,43,52,62,71,81],
  [3.94,3,12,21,30,39,48,58,67,77,87,94],
  [4.01,8,17,26,35,44,53,63,72,82],
  [4.08,4,13,22,31,40,49,59,68,78,89,104],
  [4.15,0,9,18,27,36,45,54,64,73,83],
  [4.22,5,14,23,32,41,50,60,69,79,90],
  [4.29,1,10,19,28,37,46,55,65,74,84,96],
  [4.36,6,15,24,33,42,51,61,70,80,91],
  [4.43,2,11,20,29,38,47,57,66,76,86,99],
  [4.50,7,16,25,34,43,52,62,71,81,92,105],
  [4.57,3,12,21,30,39,48,58,67,77,88,100,112],
  [4.64,8,17,26,35,44,53,63,72,82,93,105,118],
  [4.71,4,13,22,31,40,49,59,68,78,89,101,114,126],
  [4.78,0,9,18,27,36,45,54,64,73,84,95,107,120,134],
  [4.85,5,14,23,32,41,50,60,69,79,90,101,113,126,140],
  [4.92,1,10,19,28,37,46,55,65,74,84,95,106,118,131,146],
  [4.99,6,15,24,33,42,51,61,70,80,90,101,112,124,137,152],
  [5.06,2,11,20,29,38,47,57,66,76,86,96,107,118,130,143,158],
  [5.13,7,16,25,34,43,52,62,71,81,91,101,112,123,135,148,163,176],
  [5.20,3,12,21,30,39,48,58,67,77,87,97,107,118,129,141,154,168,184],
  [5.27,8,17,26,35,44,53,63,72,82,92,102,112,123,134,146,159,173,190],
  [5.34,4,13,22,31,40,49,59,68,78,88,98,108,119,130,142,155,169,185,202],
  [5.41,9,19,29,39,50,60,71,81,91,101,111,122,133,145,158,172,188,206],
  [5.48,5,16,27,38,49,61,72,83,94,104,115,126,138,151,165,180,197],
  [5.55,12,25,38,52,66,79,92,104,117,130,144,159,175,193],
  [5.62,8,23,39,55,71,86,101,115,130,146,163,182],
  [5.69,17,35,54,73,92,110,128,148,170],
  [2.855,2,10,20,31,42,54,66,79,93,107,122,138,155,175,198],
  [2.905,3,12,22,31,41,50,60,69,79,88,98,108,118,129,140,152,165,179,195,214],
  [2.955,6,16,26,35,45,54,64,73,83,92,102,112,122,133,145,157,170,184,200,220],
  [3.005,2,11,20,29,39,48,58,68,77,87,97,107,118,130,142,155,170,188],
  [3.365,0,9,19,30,42,54,66,80,95,110,127,146,165],
  [3.415,4,13,23,33,43,53,64,75,87,99,111,125,140,155],
  [3.465,8,17,27,37,47,57,68,79,91,103,115,128,143],
  [3.515,2,12,22,32,42,53,64,76,89,103,119],
  [3.625,1,9,18,27,36,45,55,64,74,84,95],
  [3.695,5,14,23,32,41,50,60,69,79,89],
  [3.765,1,10,19,28,37,46,56,65,75,84,94],
  [3.835,6,15,24,33,42,51,61,70,80,90],
  [3.905,2,11,20,29,38,47,57,66,76,86],
  [3.975,7,16,25,34,43,52,62,71,81,91],
  [4.045,3,12,21,30,39,48,58,67,77,86],
  [4.115,8,17,26,35,44,53,63,72,82,94],
  [4.185,4,13,22,31,40,49,59,68,78,88],
  [4.255,0,9,18,27,36,45,55,64,74,84,95],
  [4.325,5,14,23,32,41,50,60,69,79,89],
  [4.395,1,10,19,28,37,46,56,65,75,85,94],
  [4.465,6,15,24,33,42,51,61,70,80,91,102],
  [4.535,2,11,20,29,38,47,57,66,76,86,97,108],
  [4.605,7,16,25,34,43,52,62,71,81,92,103,115],
  [4.675,3,12,21,30,39,48,58,67,77,88,99,111,122],
  [4.745,8,17,26,35,44,53,63,72,82,93,104,117,130],
  [4.815,4,13,22,31,40,49,59,68,78,89,100,112,126,138],
  [4.885,0,9,18,27,36,45,55,64,74,85,96,108,121,135,149],
  [4.955,5,14,23,32,41,50,60,69,79,89,100,112,125,139,155],
  [5.025,1,10,19,28,37,46,56,65,75,85,96,107,119,132,148,162],
  [5.095,6,15,24,33,42,51,61,70,80,90,100,111,123,136,150,167],
  [5.165,2,11,20,29,38,47,57,66,76,86,96,107,118,130,143,158,172,188],
  [5.235,7,16,25,34,43,52,62,71,81,91,101,112,123,135,148,162,178,195],
  [5.305,3,12,21,30,39,48,58,67,77,87,97,107,118,129,141,154,168,184,200],
  [5.375,8,17,26,35,44,54,64,73,83,93,103,114,125,137,150,164,179,196],
  [5.445,4,14,24,34,44,55,66,76,86,96,106,117,128,140,153,168,184,204],
  [5.515,10,21,32,44,55,67,78,89,99,110,121,133,145,159,174,190],
  [5.585,4,18,31,45,59,73,86,98,111,124,138,152,168,186],
  [5.655,12,29,46,63,79,94,108,123,139,156,176],
  [5.73,5,22,41,60,80,99,118,138,160],
  [5.80,12,30,50,72,95,118,142],
  [5.87,6,24,45,68,90,115],
  [5.94,15,38,60,85]];

const expand = cols => cols.flatMap(([t, ...es]) => es.map(e => [t, e]));

const sans = 'Liberation Sans, Arial, Helvetica, sans-serif';

// frame + inward ticks on all four sides
const frameTicks = {
  id: 'frameTicks',
  afterDraw(chart) {
    const { ctx, chartArea: a, scales: { x, y } } = chart;
    ctx.save();
    ctx.strokeStyle = '#a2a2a2';
    ctx.lineWidth = 1.5;
    ctx.beginPath();
    x.ticks.forEach(t => {
      const px = x.getPixelForValue(t.value);
      const len = t.value % 2 === 0 ? 8 : 5;
      ctx.moveTo(px, a.bottom); ctx.lineTo(px, a.bottom - len);
      ctx.moveTo(px, a.top); ctx.lineTo(px, a.top + len);
    });
    y.ticks.forEach(t => {
      const py = y.getPixelForValue(t.value);
      const len = t.value % 200 === 0 ? 8 : 5;
      ctx.moveTo(a.left, py); ctx.lineTo(a.left + len, py);
      ctx.moveTo(a.right, py); ctx.lineTo(a.right - len, py);
    });
    ctx.stroke();
    ctx.strokeRect(a.left, a.top, a.right - a.left, a.bottom - a.top);
    ctx.restore();
  }
};

function makePanel(id, points, color, radius, o) {
  return new Chart(document.getElementById(id), {
    type: 'scatter',
    data: {
      datasets: [{
        data: points,
        backgroundColor: color,
        borderWidth: 0,
        pointRadius: radius,
        pointHoverRadius: radius,
        clip: 1
      }]
    },
    options: {
      responsive: false,
      animation: false,
      devicePixelRatio: 1,
      events: [],
      layout: { padding: { top: 39, right: 11, bottom: 0, left: 0 } },
      plugins: { legend: { display: false }, tooltip: { enabled: false } },
      scales: {
        x: {
          type: 'linear', min: 0, max: 10,
          grid: { display: false, drawTicks: false },
          border: { display: false },
          afterBuildTicks: s => { s.ticks = xTicks.map(v => ({ value: v })); },
          ticks: {
            display: o.xLabels, autoSkip: false, maxRotation: 0, padding: o.xPad,
            color: '#111', font: { family: sans, size: 18 },
            callback: v => (v % 2 === 0 ? String(v) : '')
          },
          title: {
            display: o.xLabels, text: 't-t\u2080 [ms]', color: '#111',
            font: { family: sans, size: 18 }, padding: { top: 0, bottom: o.xTitlePad }
          },
          afterFit: s => { s.height = o.xHeight; s.paddingLeft = 0; s.paddingRight = 0; }
        },
        y: {
          type: 'linear', min: o.yMin, max: o.yMax,
          grid: { display: false, drawTicks: false },
          border: { display: false },
          afterBuildTicks: s => { s.ticks = yTicks.map(v => ({ value: v })); },
          ticks: {
            autoSkip: false, padding: 5, color: '#111', font: { family: sans, size: 18 },
            callback: v => (v % 200 === 0 ? String(v) : '')
          },
          title: {
            display: true, text: o.yTitle, color: '#111',
            font: { family: sans, size: o.yTitleSize }, padding: { top: o.yTitlePad, bottom: 0 }
          },
          afterFit: s => { s.width = 127; s.paddingTop = 0; s.paddingBottom = 0; }
        }
      }
    },
    plugins: [frameTicks]
  });
}

makePanel('chartA', [...ejPre, ...expand(ejCore), ...expand(ejFill), ...expand(ejTail), ...ejUpper], '#000', 2.5,
  { xLabels: true, xPad: 7, xTitlePad: 5, xHeight: 54, yMin: -10, yMax: 610,
    yTitle: 'Energy [KeV]', yTitleSize: 18, yTitlePad: 58 });

makePanel('chartB', [...lysoLeft, ...expand(lysoCore), ...lysoSpike, ...lysoCloud, ...lysoRight], 'rgb(20,20,240)', 2.0,
  { xLabels: false, xPad: 0, xTitlePad: 0, xHeight: 1, yMin: -4, yMax: 604,
    yTitle: 'Energy [keV]', yTitleSize: 17, yTitlePad: 60 });

makePanel('chartC', [...laLeft, ...expand(laCore), ...laSpike, ...laMid, ...laRight], 'rgb(255,128,0)', 2.2,
  { xLabels: true, xPad: 4, xTitlePad: 2, xHeight: 48, yMin: -8, yMax: 600,
    yTitle: 'Energy [keV]', yTitleSize: 17, yTitlePad: 60 });
</script>
</body>
</html>
